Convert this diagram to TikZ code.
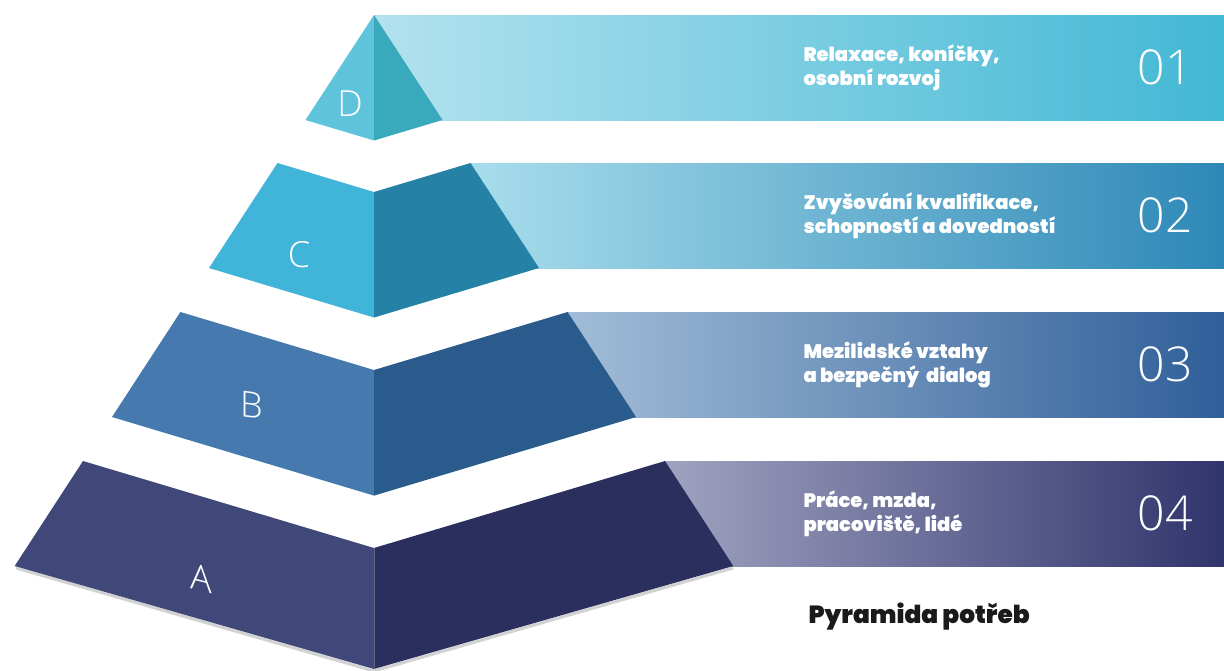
\documentclass[tikz,border=0pt]{standalone}
\usepackage{fontspec}
\usepackage{tikz}
\usetikzlibrary{positioning,shadows}
\IfFontExistsTF{Poppins Black}
  {\newfontfamily\bandfont{Poppins Black}}
  {\newfontfamily\bandfont{Poppins}[UprightFont={* Bold}]}
\IfFontExistsTF{Open Sans Light}
  {\newfontfamily\numfont{Open Sans Light}}
  {\newfontfamily\numfont{Open Sans}}
% tier faces
\definecolor{tierDlight}{HTML}{5EC3DB}
\definecolor{tierDdark}{HTML}{39A9BC}
\definecolor{tierClight}{HTML}{41B4D9}
\definecolor{tierCdark}{HTML}{2581A6}
\definecolor{tierBlight}{HTML}{4679AD}
\definecolor{tierBdark}{HTML}{295B8D}
\definecolor{tierAlight}{HTML}{3F4879}
\definecolor{tierAdark}{HTML}{2A2F5D}
% bands
\definecolor{bandDleft}{HTML}{B3E2EE}
\definecolor{bandDright}{HTML}{42B8D5}
\definecolor{bandCleft}{HTML}{A8DDEC}
\definecolor{bandCright}{HTML}{2E88B7}
\definecolor{bandBleft}{HTML}{A2BCD7}
\definecolor{bandBright}{HTML}{2F5F99}
\definecolor{bandAleft}{HTML}{A0A2C0}
\definecolor{bandAright}{HTML}{30346C}
\definecolor{titleblack}{HTML}{1A1A1A}
\tikzstyle{bandtext} = [anchor=west,align=left,text=white,font=\bandfont\fontsize{19.5}{24}\selectfont]
\tikzstyle{bandnum} = [text=white,font=\numfont\fontsize{48}{48}\selectfont]
\tikzstyle{facelabel} = [text=white,font=\numfont\fontsize{36}{36}\selectfont]

\begin{document}
\begin{tikzpicture}[x=1pt,y=-1pt]
\useasboundingbox[fill=white] (0,0) rectangle (1224,670);

% Bands (behind the pyramid)
\shade[left color=bandDleft, right color=bandDright] (374,15) rectangle (1224,120);
\shade[left color=bandCleft, right color=bandCright] (470,163) rectangle (1224,268);
\shade[left color=bandBleft, right color=bandBright] (568,312) rectangle (1224,417);
\shade[left color=bandAleft, right color=bandAright] (665,461) rectangle (1224,566);

% Shadow under the base
\draw[gray!70, line width=3pt, opacity=0.5] (16,568) -- (374,671) -- (733,568);

% Tier D (top)
\fill[tierDlight] (374,15) -- (305.5,120) -- (374,140.5) -- cycle;
\fill[tierDdark] (374,15) -- (442.5,120) -- (374,140.5) -- cycle;

% Tier C
\fill[tierClight] (277.5,163) -- (374,192) -- (374,317.5) -- (209,268) -- cycle;
\fill[tierCdark] (470.5,163) -- (374,192) -- (374,317.5) -- (539,268) -- cycle;

% Tier B
\fill[tierBlight] (180.4,312) -- (374,370) -- (374,495.6) -- (112,417) -- cycle;
\fill[tierBdark] (567.6,312) -- (374,370) -- (374,495.6) -- (636,417) -- cycle;

% Tier A (base)
\fill[tierAlight] (83,461) -- (374,548) -- (374,669) -- (14.7,566) -- cycle;
\fill[tierAdark] (665,461) -- (374,548) -- (374,669) -- (733.3,566) -- cycle;
\draw[white, opacity=0.25, line width=0.6pt] (374,548) -- (374,669);

% Face letters
\node[facelabel] (labD) at (350,104) {D};
\node[facelabel] (labC) at (299,255) {C};
\node[facelabel, yslant=-0.12] (labB) at (252,405) {B};
\node[facelabel, yslant=-0.25] (labA) at (201,578) {A};

% Band texts
\node[bandtext] (txtD) at (800,67.5) {Relaxace, koníčky,\\osobní rozvoj};
\node[bandtext] (txtC) at (800,215.5) {Zvyšování kvalifikace,\\schopností a dovedností};
\node[bandtext] (txtB) at (800,364.5) {Mezilidské vztahy\\a bezpečný\ \ dialog};
\node[bandtext] (txtA) at (800,513.5) {Práce, mzda,\\pracoviště, lidé};

% Numbers
\node[bandnum] (numD) at (1165,67.5) {01};
\node[bandnum] (numC) at (1165,215.5) {02};
\node[bandnum] (numB) at (1165,364.5) {03};
\node[bandnum] (numA) at (1165,513.5) {04};

% Title
\node[anchor=base west, text=titleblack, font=\bandfont\fontsize{24.8}{25}\selectfont] (title) at (805,623) {Pyramida potřeb};
\end{tikzpicture}
\end{document}
